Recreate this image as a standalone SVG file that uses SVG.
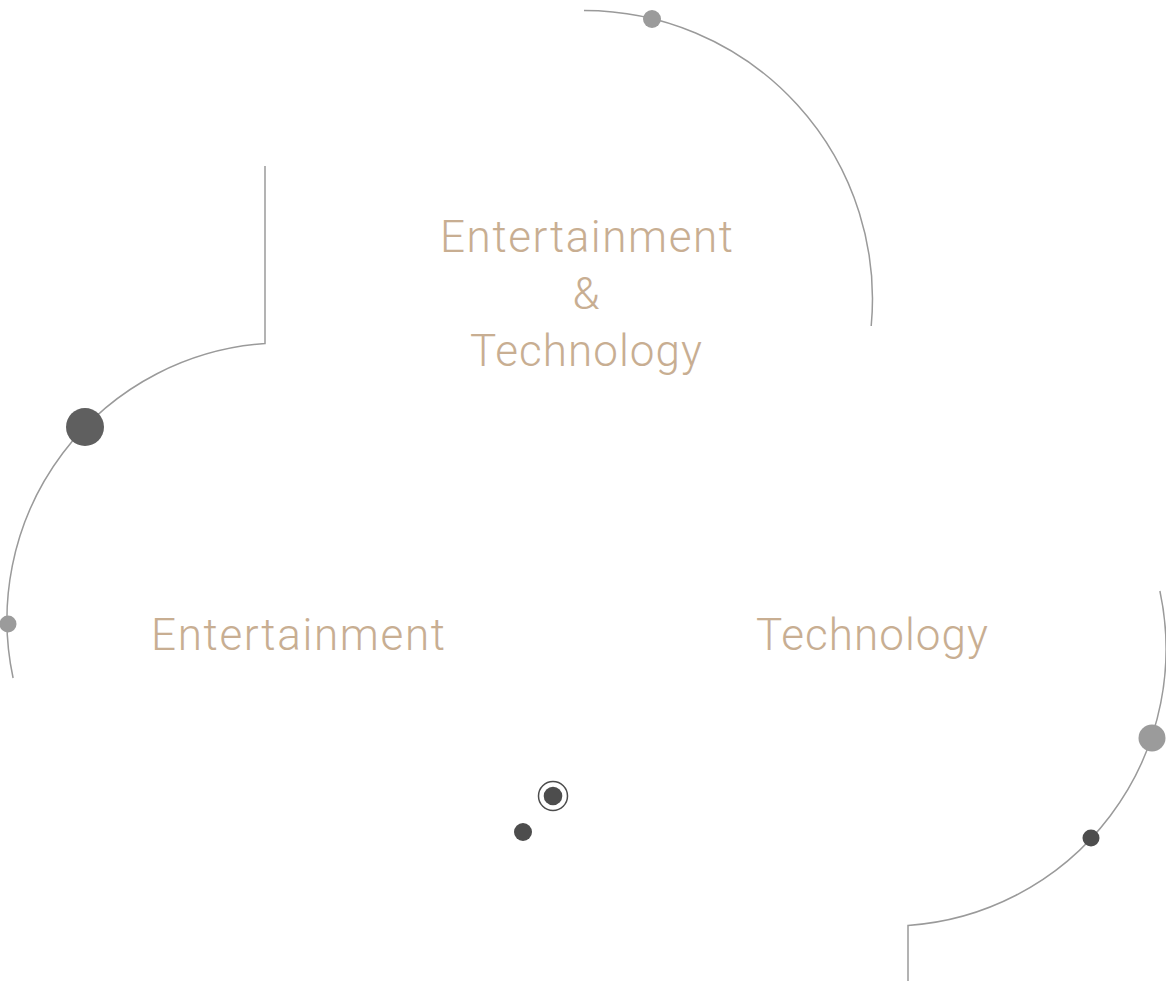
<svg xmlns="http://www.w3.org/2000/svg" width="1166" height="981" viewBox="0 0 1166 981">
  <style>
    .arc { fill: none; stroke: #9a9a9a; stroke-width: 1.5; }
    .lbl { font-family: Roboto, "Liberation Sans", sans-serif; font-weight: 300; font-size: 44px; fill: #c8ae92; text-anchor: middle; }
    .light { fill: #9b9b9b; }
    .dark { fill: #4d4d4d; }
    .mid { fill: #5f5f5f; }
  </style>
  <rect width="1166" height="981" fill="#ffffff"/>
  <g id="connectors">
    <path class="arc" d="M584 10.5 A288.5 288.5 0 0 1 871.2 326"/>
    <path class="arc" d="M265 166 V343.6 A277 277 0 0 0 13.1 678"/>
    <path class="arc" d="M908 981 V925.4 A277 277 0 0 0 1159.9 591"/>
  </g>
  <g id="node-combined">
    <text class="lbl" x="586.5" y="252" textLength="293" lengthAdjust="spacing">Entertainment</text>
    <text class="lbl" x="586" y="309">&amp;</text>
    <text class="lbl" x="586" y="366" textLength="232" lengthAdjust="spacing">Technology</text>
  </g>
  <g id="node-entertainment">
    <text class="lbl" x="298" y="650" textLength="294" lengthAdjust="spacing">Entertainment</text>
  </g>
  <g id="node-technology">
    <text class="lbl" x="872" y="650" textLength="232" lengthAdjust="spacing">Technology</text>
  </g>
  <g id="dots">
    <circle class="light" cx="652" cy="19" r="9"/>
    <circle class="mid" cx="85" cy="427" r="19"/>
    <circle class="light" cx="8" cy="624" r="8.5"/>
    <circle class="light" cx="1152" cy="738" r="13.5"/>
    <circle class="dark" cx="1091" cy="838" r="8.5"/>
    <circle cx="553" cy="796" r="14.5" fill="none" stroke="#4d4d4d" stroke-width="1.5"/>
    <circle class="dark" cx="553" cy="796" r="9.3"/>
    <circle class="dark" cx="523" cy="832" r="9"/>
  </g>
</svg>
